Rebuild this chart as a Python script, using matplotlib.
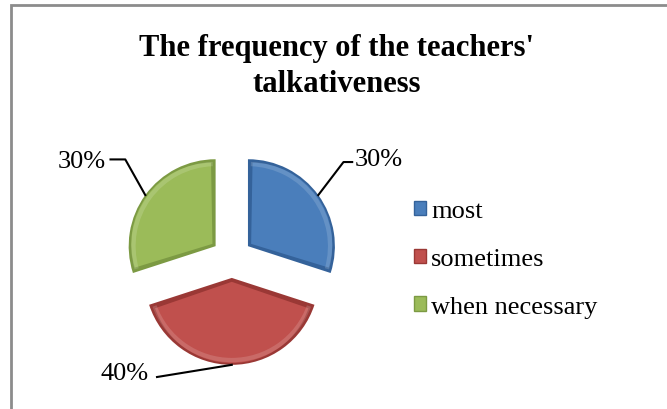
import matplotlib.pyplot as plt
import matplotlib.patches as patches
import numpy as np

# Survey answers and their shares
labels = ['most', 'sometimes', 'when necessary']
shares = [30, 40, 30]
pct_text = ['30%', '40%', '30%']
colors = ['#4a7ebb', '#c0504d', '#9bbb59']
edge_colors = ['#34629a', '#9a3835', '#7c9a43']

plt.rcParams['font.family'] = ['Liberation Serif', 'DejaVu Serif']

fig = plt.figure(figsize=(6.67, 4.10), dpi=100)

# gray frame round the chart area (cropped on the right and bottom)
frame = patches.Rectangle((11 / 667, -0.05), 1.2, 1 - 6 / 410 + 0.05,
                          transform=fig.transFigure, fill=False,
                          edgecolor='#8c8c8c', linewidth=2, clip_on=False)
fig.patches.append(frame)

fig.text(0.505, 0.838, "The frequency of the teachers'\ntalkativeness",
         ha='center', va='center', fontsize=22, fontweight='bold',
         linespacing=1.28)

# square axes, one data unit = pie radius
ax = fig.add_axes([0.152, 0.05, 0.391, 0.637])

explode = [0.23, 0.23, 0.23]
wedges, _ = ax.pie(shares, explode=explode, startangle=90, counterclock=False,
                   colors=colors, radius=1.0, center=(0, 0),
                   wedgeprops=dict(edgecolor='none'))
ax.set_xlim(-1.5, 1.5)
ax.set_ylim(-1.5, 1.5)
ax.set_aspect('equal')
ax.axis('off')

# soft bevel: darker rim with a slightly inset lighter body
for i, w in enumerate(wedges):
    w.set_facecolor(edge_colors[i])
    cx, cy = w.center
    t1, t2 = w.theta1, w.theta2
    mid = np.deg2rad((t1 + t2) / 2)
    inset = 0.03
    inner = patches.Wedge((cx + inset * np.cos(mid) * 1.5, cy + inset * np.sin(mid) * 1.5),
                          w.r - inset * 2.2, t1 + 1.0, t2 - 1.0,
                          facecolor=colors[i], edgecolor='none')
    ax.add_patch(inner)
    # light highlight along the arc
    hl = patches.Wedge((cx, cy), w.r - 0.03, t1 + 2, t2 - 2, width=0.05,
                       facecolor='white', alpha=0.15, edgecolor='none')
    ax.add_patch(hl)

# percentage labels with leader lines
for w, txt in zip(wedges, pct_text):
    cx, cy = w.center
    mid = np.deg2rad((w.theta1 + w.theta2) / 2)
    px, py = cx + np.cos(mid), cy + np.sin(mid)
    if np.cos(mid) > 0.3:
        elbow = (px + 0.29, py + 0.38)
        end = (elbow[0] + 0.10, elbow[1])
        ax.plot([px, elbow[0], end[0]], [py, elbow[1], end[1]], color='black', lw=1.5,
                clip_on=False)
        ax.text(end[0] + 0.03, end[1] + 0.04, txt, ha='left', va='center', fontsize=19)
    elif np.cos(mid) < -0.3:
        elbow = (px - 0.23, py + 0.41)
        end = (elbow[0] - 0.17, elbow[1])
        ax.plot([px, elbow[0], end[0]], [py, elbow[1], end[1]], color='black', lw=1.5,
                clip_on=False)
        ax.text(end[0] - 0.05, end[1] - 0.02, txt, ha='right', va='center', fontsize=19)
    else:
        end = (px - 0.86, py - 0.14)
        ax.plot([px, end[0]], [py, end[1]], color='black', lw=1.5, clip_on=False)
        ax.text(end[0] - 0.10, end[1] + 0.05, txt, ha='right', va='center', fontsize=19)

handles = [patches.Rectangle((0, 0), 1, 1, facecolor=c, edgecolor=e, linewidth=1)
           for c, e in zip(colors, edge_colors)]
fig.legend(handles, labels, loc='upper left', bbox_to_anchor=(0.605, 0.535),
           frameon=False, fontsize=19, handlelength=0.45, handleheight=0.45,
           handletextpad=0.2, labelspacing=0.98, borderaxespad=0)

fig.savefig('out.png', dpi=100, facecolor='white')
